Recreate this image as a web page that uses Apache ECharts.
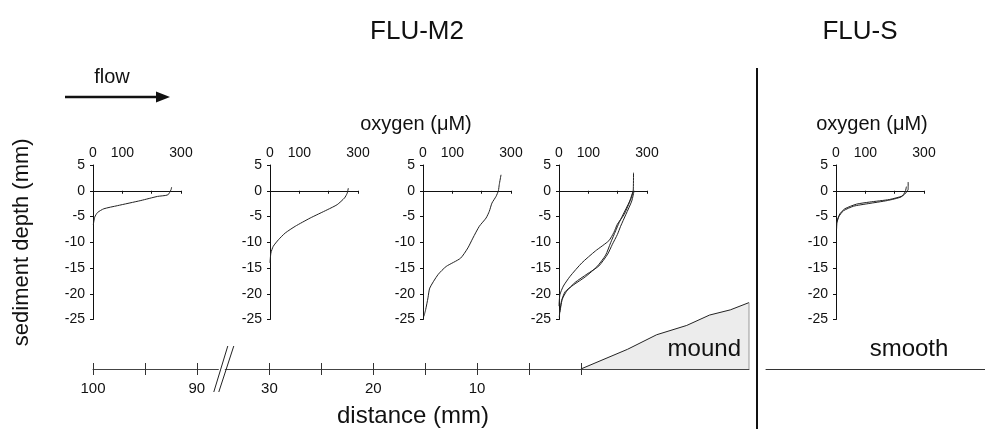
<!DOCTYPE html>
<html>
<head>
<meta charset="utf-8">
<script src="https://cdn.jsdelivr.net/npm/echarts@6/dist/echarts.min.js"></script>
<style>
  html, body { margin: 0; padding: 0; background: #fff; }
  #chart { width: 985px; height: 429px; }
</style>
</head>
<body>
<div id="chart"></div>
<script>
// oxygen profiles, pairs of [oxygen (uM), depth (mm)]
var profile1 = [[268, 0.7], [266, 0.2], [255, -0.8], [220, -1.1], [163, -1.9], [83, -2.9], [37, -3.5], [16, -4.2], [6, -5.1], [1, -6.6]];
var profile2 = [[267, 0.5], [263, -0.5], [254, -1.4], [229, -2.7], [195, -3.7], [137, -5.3], [86, -6.9], [52, -8.2], [29, -9.5], [11, -10.8], [3, -12.1], [0, -14.0]];
var profile3 = [[266, 3.1], [260, 1.2], [257, 0], [249, -1.1], [235, -2.4], [226, -4.0], [215, -5.3], [192, -6.9], [170, -9.2], [153, -11.1], [128, -13.1], [79, -14.7], [51, -16.3], [23, -18.9], [17, -20.8], [9, -23.1], [3, -24.4]];
var profile4a = [[254, 3.5], [253, 0], [245, -1.6], [222, -4.6], [199, -6.5], [187, -8.1], [170, -9.7], [124, -11.7], [78, -14.0], [38, -16.6], [15, -18.5], [3, -20.2], [0, -22.4]];
var profile4b = [[253, 0], [241, -2.0], [216, -4.9], [205, -6.2], [193, -7.8], [176, -10.1], [159, -12.5], [130, -14.7], [90, -16.7], [49, -18.3], [21, -19.6], [9, -21.3], [3, -23.3], [1, -24.6]];
var profile4c = [[256, 0], [248, -2.0], [228, -4.6], [210, -6.9], [199, -8.5], [182, -10.4], [166, -12.3], [136, -14.6], [95, -16.2], [55, -17.8], [26, -19.5], [11, -21.1], [3, -23.6]];
var profile5a = [[246, 1.7], [246, 0.3], [240, -0.3], [227, -1.0], [182, -1.7], [114, -2.2], [70, -2.6], [30, -3.5], [13, -4.5], [4, -5.8], [2, -7.4]];
var profile5b = [[240, 0.8], [236, -0.2], [222, -1.2], [175, -1.9], [110, -2.5], [60, -3.0], [25, -3.9], [10, -5.0], [3, -6.2]];

var oxygenLabels = [0, 100, 300];
var oxygenTicks = [0, 100, 200, 300];

// distance axis (mm), with a break between 90 and 30
var distTicks = [100, 95, 90, 30, 25, 20, 15, 10, 5, 0];
var distLabels = [100, 90, 30, 20, 10];
var breakAt = 34.4; // axis units, between 90 and 30
// mound profile beyond 0 mm
var moundDist = [0, -4.5, -7.3, -10.2, -12.4, -14.4, -16.2];
var moundHeight = [0, 1.9, 3.3, 4.2, 5.2, 5.7, 6.4];

var FONT = "'Liberation Sans', Arial, sans-serif";
var ink = '#111';

// the 90..100 part is pulled next to 30 (gap of 7 mm on the axis)
function toAxis(d) {
    return d >= 90 ? d - 53 : d;
}
function fromAxis(u) {
    return u >= 35 ? u + 53 : u;
}

var plotLefts = [93, 270, 423, 559, 836];
var plotWidth = 88;
var plots = [[profile1], [profile2], [profile3], [profile4a, profile4b, profile4c], [profile5a, profile5b]];

var grids = [], xAxes = [], yAxes = [], series = [];

for (let i = 0; i < plots.length; i++) {
    grids.push({ left: plotLefts[i], top: 165, width: plotWidth, height: 154.5 });
    // labels on top
    xAxes.push({
        type: 'value', gridIndex: i, position: 'top', min: 0, max: 300,
        axisLine: { show: false, onZero: false },
        axisTick: { show: false },
        splitLine: { show: false },
        axisLabel: { customValues: oxygenLabels, fontSize: 14, color: ink, fontFamily: FONT, margin: 5 }
    });
    // line through depth 0
    xAxes.push({
        type: 'value', gridIndex: i, position: 'bottom', min: 0, max: 300,
        axisLine: { show: true, onZero: true, lineStyle: { color: ink, width: 1 } },
        axisTick: { show: true, customValues: oxygenTicks, length: 3, lineStyle: { color: ink } },
        axisLabel: { show: false },
        splitLine: { show: false }
    });
    yAxes.push({
        type: 'value', gridIndex: i, min: -25, max: 5, interval: 5,
        axisLine: { show: true, onZero: false, lineStyle: { color: ink, width: 1 } },
        axisTick: { show: true, length: 3, lineStyle: { color: ink } },
        axisLabel: { fontSize: 14, color: ink, fontFamily: FONT, margin: 8 },
        splitLine: { show: false },
        name: i === 0 ? 'sediment depth (mm)' : '',
        nameLocation: 'middle', nameRotate: 90, nameGap: 60,
        nameTextStyle: { fontSize: 22, color: ink, fontFamily: FONT }
    });
    plots[i].forEach(function (p) {
        series.push({
            type: 'line', xAxisIndex: i * 2 + 1, yAxisIndex: i, data: p,
            showSymbol: false, smooth: 0.2, silent: true,
            lineStyle: { color: '#222', width: 1 }
        });
    });
}

// bottom: distance axis + mound
var gB = grids.length;
grids.push({ left: 93, width: 656, bottom: 60, height: 83 });
var xB = xAxes.length;
xAxes.push({
    type: 'value', gridIndex: gB, position: 'bottom', min: -16.2, max: 47, inverse: true,
    axisLine: { show: true, onZero: false, lineStyle: { color: '#444', width: 1 } },
    axisTick: { show: true, customValues: distTicks.map(toAxis), length: 6, lineStyle: { color: '#333' } },
    axisLabel: {
        customValues: distLabels.map(toAxis), fontSize: 15, color: ink, fontFamily: FONT, margin: 12,
        formatter: function (v) { return String(Math.round(fromAxis(v))); }
    },
    splitLine: { show: false },
    name: 'distance (mm)', nameLocation: 'middle', nameGap: 35,
    nameTextStyle: { fontSize: 24, color: ink, fontFamily: FONT, padding: [0, 16, 0, 0] }
});
xAxes.push({
    type: 'value', gridIndex: gB, position: 'top', min: -16.2, max: 47, inverse: true,
    axisLine: { show: false, onZero: true },
    axisTick: { show: true, customValues: distTicks.map(toAxis), length: 6, lineStyle: { color: '#333' } },
    axisLabel: { show: false },
    splitLine: { show: false }
});
var yB = yAxes.length;
yAxes.push({ type: 'value', gridIndex: gB, min: 0, max: 8, show: false });

series.push({
    type: 'line', xAxisIndex: xB, yAxisIndex: yB, silent: true, showSymbol: false,
    data: moundDist.map(function (d, k) { return [d, moundHeight[k]]; }),
    lineStyle: { color: '#222', width: 1 },
    areaStyle: { color: '#ececec', opacity: 1 }
});
series.push({
    type: 'line', xAxisIndex: xB, yAxisIndex: yB, silent: true, showSymbol: false,
    data: [[moundDist[moundDist.length - 1], moundHeight[moundHeight.length - 1]], [moundDist[moundDist.length - 1], 0]],
    lineStyle: { color: '#999', width: 1 }
});
// axis break marks "//"
series.push({
    type: 'custom', xAxisIndex: xB, yAxisIndex: yB, silent: true,
    data: [[breakAt, 0]],
    renderItem: function (params, api) {
        var c = api.coord([api.value(0), api.value(1)]);
        var st = { stroke: '#222', lineWidth: 1 };
        return {
            type: 'group', children: [
                { type: 'rect', shape: { x: c[0] - 5, y: c[1] - 1, width: 6, height: 2 }, style: { fill: '#fff' } },
                { type: 'line', shape: { x1: c[0] - 10, y1: c[1] + 23, x2: c[0] + 4, y2: c[1] - 23 }, style: st },
                { type: 'line', shape: { x1: c[0] - 5, y1: c[1] + 23, x2: c[0] + 10, y2: c[1] - 23 }, style: st }
            ]
        };
    }
});

// FLU-S baseline
var gS = grids.length;
grids.push({ left: 766, right: 0, bottom: 60, height: 20 });
xAxes.push({
    type: 'value', gridIndex: gS, position: 'bottom', min: 0, max: 1,
    axisLine: { show: true, onZero: false, lineStyle: { color: '#333', width: 1 } },
    axisTick: { show: false }, axisLabel: { show: false }, splitLine: { show: false }
});
yAxes.push({ type: 'value', gridIndex: gS, min: 0, max: 1, show: false });

function label(txt, x, y, size, align) {
    return {
        type: 'text', x: x, y: y, z: 100,
        style: { text: txt, font: size + 'px ' + FONT, fill: ink, textAlign: align || 'center', textVerticalAlign: 'middle' }
    };
}

var myChart = echarts.init(document.getElementById('chart'), null, { renderer: 'canvas' });
myChart.setOption({
    backgroundColor: '#fff',
    animation: false,
    grid: grids,
    xAxis: xAxes,
    yAxis: yAxes,
    series: series,
    graphic: [
        label('FLU-M2', 417, 32, 26),
        label('FLU-S', 860, 32, 26),
        label('oxygen (\u03bcM)', 416, 124, 20),
        label('oxygen (\u03bcM)', 872, 124, 20),
        label('flow', 112, 77, 20),
        { type: 'line', z: 100, shape: { x1: 65, y1: 97, x2: 160, y2: 97 }, style: { stroke: ink, lineWidth: 2.5 } },
        { type: 'polygon', z: 100, shape: { points: [[156, 91.5], [170, 97], [156, 102.5]] }, style: { fill: ink } },
        { type: 'line', z: 100, shape: { x1: 757, y1: 68, x2: 757, y2: 429 }, style: { stroke: ink, lineWidth: 2 } },
        label('mound', 741, 349, 24, 'right'),
        label('smooth', 909, 349, 24)
    ]
});
</script>
</body>
</html>
